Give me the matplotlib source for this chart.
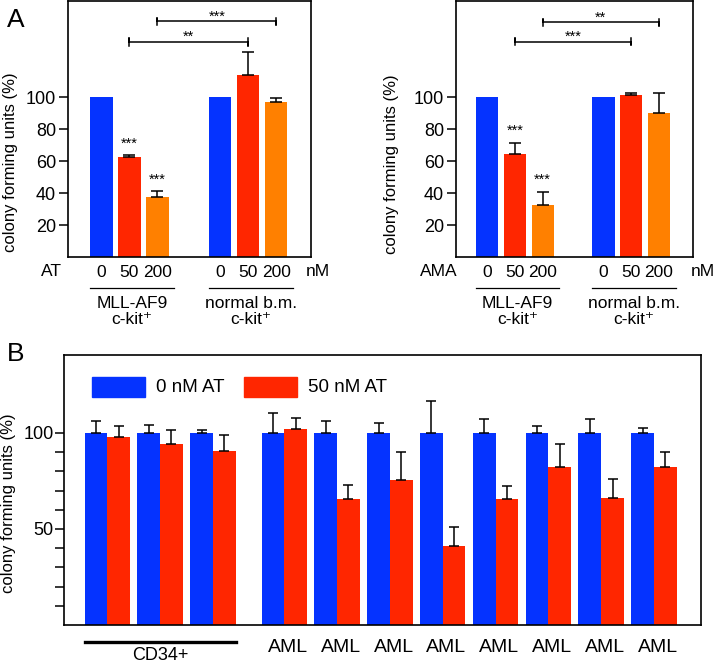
import matplotlib
matplotlib.use("Agg")
import matplotlib.pyplot as plt
import matplotlib.transforms as mtransforms
import numpy as np

plt.rcParams['font.family'] = ['Liberation Sans', 'DejaVu Sans']

W, H = 714, 666
BLUE = '#0533ff'
RED = '#ff2600'
ORANGE = '#ff8000'

# ---- panel A data ----
doses = ['0', '50', '200']
at_mll = [100, 62.9, 37.6]
at_mll_err = [0, 0.9, 3.7]
at_norm = [100, 114.2, 97.1]
at_norm_err = [0, 14.3, 2.5]
ama_mll = [100, 64.8, 32.7]
ama_mll_err = [0, 6.7, 8.2]
ama_norm = [100, 101.7, 90.0]
ama_norm_err = [0, 1.2, 12.9]
group_names = ['MLL-AF9\nc-kit\u207a', 'normal b.m.\nc-kit\u207a']

# ---- panel B data ----
samples = ['CD34+', 'CD34+', 'CD34+', 'AML', 'AML', 'AML', 'AML', 'AML', 'AML', 'AML', 'AML']
ctrl = [100] * 11
ctrl_err = [6.1, 4.3, 1.7, 10.2, 6.3, 5.2, 16.5, 7.1, 3.6, 7.5, 2.4]
treat = [98.1, 94.1, 90.8, 102.3, 65.6, 75.5, 41.0, 65.6, 82.3, 66.0, 82.3]
treat_err = [5.4, 7.3, 8.3, 5.3, 7.1, 14.4, 10.0, 7.0, 12.0, 10.0, 8.0]

fig = plt.figure(figsize=(W / 100, H / 100), dpi=100)


def px_axes(l, t, r, b):
    return fig.add_axes([l / W, 1 - b / H, (r - l) / W, (b - t) / H])


def panel_a(ax, mll, mll_err, norm, norm_err, gap, drug, xlim, brackets, height_px, unit_px, nm_px):
    pos1 = np.arange(3)
    pos2 = np.arange(3) + gap
    pos = np.concatenate([pos1, pos2])
    vals = mll + norm
    errs = np.array(mll_err + norm_err)
    cols = [BLUE, RED, ORANGE] * 2
    ax.bar(pos, vals, width=0.8, color=cols, edgecolor='none')
    m = errs > 0
    ax.errorbar(pos[m], np.array(vals)[m], yerr=[np.zeros(m.sum()), errs[m]],
                fmt='none', ecolor='black', elinewidth=1.1, capsize=4.3, capthick=1.1)
    ax.set_xlim(*xlim)
    ax.set_ylim(0, 160.5)
    ax.set_yticks([20, 40, 60, 80, 100])
    ax.tick_params(axis='y', length=6.5, width=1.1, labelsize=13, pad=2)
    ax.set_xticks(pos)
    ax.set_xticklabels(doses * 2)
    ax.tick_params(axis='x', length=0, labelsize=12.5, pad=6)
    for s in ax.spines.values():
        s.set_linewidth(1.2)
    # stars over bars
    for i in (1, 2):
        ax.annotate('***', (pos[i], vals[i] + errs[i]), xytext=(0, 8.5),
                    textcoords='offset points', ha='center', va='center', fontsize=10.5)
    # significance brackets
    for a, b, y, lab in brackets:
        xa, xb = pos[a], pos[b]
        ax.plot([xa, xa, xa, xb, xb, xb], [y - 2.2, y + 2.2, y, y, y - 2.2, y + 2.2],
                color='black', lw=1.1, clip_on=False)
        ax.annotate(lab, ((xa + xb) / 2, y), xytext=(0, 3.5), textcoords='offset points',
                    ha='center', va='center', fontsize=10.5)
    tr = mtransforms.blended_transform_factory(ax.transData, ax.transAxes)

    def yf(p):
        return -p / height_px
    ax.text(xlim[0] - 17 / unit_px, yf(14), drug, transform=tr, ha='center', va='center', fontsize=12.5)
    ax.text(xlim[1] + nm_px / unit_px, yf(14), 'nM', transform=tr, ha='center', va='center', fontsize=12.5)
    for g, name in zip((pos1, pos2), group_names):
        x0, x1 = g[0] - 0.4, g[-1] + 0.6
        ax.plot([x0, x1], [yf(31), yf(31)], color='black', lw=0.9, transform=tr, clip_on=False)
        ax.text((x0 + x1) / 2, yf(39), name, transform=tr, ha='center', va='top',
                fontsize=12.5, linespacing=1.05)


axA1 = px_axes(68, 1, 311, 257)
panel_a(axA1, at_mll, at_mll_err, at_norm, at_norm_err, 4.25, 'AT', (-1.19, 7.49),
        [(2, 5, 147.7, '***'), (1, 4, 134.8, '**')], 256, 28, 7)
axA2 = px_axes(456, 1, 693, 257)
panel_a(axA2, ama_mll, ama_mll_err, ama_norm, ama_norm_err, 4.2, 'AMA', (-1.13, 7.43),
        [(2, 5, 147.2, '**'), (1, 4, 135.0, '***')], 256, 27.7, 10)

fig.text(11 / W, 1 - 162 / H, 'colony forming units (%)', rotation=90, ha='center', va='center', fontsize=12)
fig.text(391 / W, 1 - 164 / H, 'colony forming units (%)', rotation=90, ha='center', va='center', fontsize=12)
fig.text(16 / W, 1 - 20 / H, 'A', ha='center', va='center', fontsize=19)
fig.text(16 / W, 1 - 354 / H, 'B', ha='center', va='center', fontsize=19)

# ---- panel B ----
axB = px_axes(64, 355, 701, 625)
centers = np.array([0, 1, 2] + [3.35 + k for k in range(8)])
bw = 0.43
axB.bar(centers - bw / 2, ctrl, width=bw, color=BLUE, edgecolor='none', label='0 nM AT')
axB.bar(centers + bw / 2, treat, width=bw, color=RED, edgecolor='none', label='50 nM AT')
axB.errorbar(centers - bw / 2, ctrl, yerr=[np.zeros(11), ctrl_err], fmt='none',
             ecolor='black', elinewidth=1.1, capsize=3.8, capthick=1.1)
axB.errorbar(centers + bw / 2, treat, yerr=[np.zeros(11), treat_err], fmt='none',
             ecolor='black', elinewidth=1.1, capsize=3.8, capthick=1.1)
axB.set_xlim(-0.82, 11.24)
axB.set_ylim(0, 140.6)
axB.set_yticks(np.arange(10, 101, 10))
axB.set_yticklabels(['' if v not in (50, 100) else str(v) for v in range(10, 101, 10)])
axB.tick_params(axis='y', length=6.5, width=1.1, labelsize=13, pad=1)
aml = [i for i, s in enumerate(samples) if s == 'AML']
axB.set_xticks(centers[aml] + 0.07)
axB.set_xticklabels([samples[i] for i in aml])
axB.tick_params(axis='x', length=0, labelsize=14, pad=10)
for s in axB.spines.values():
    s.set_linewidth(1.2)
cd = [i for i, s in enumerate(samples) if s == 'CD34+']
trB = mtransforms.blended_transform_factory(axB.transData, axB.transAxes)
x0, x1 = centers[cd[0]] - bw, centers[cd[-1]] + bw
axB.plot([x0, x1], [-17 / 270, -17 / 270], color='black', lw=2.4, transform=trB, clip_on=False)
axB.text((x0 + x1) / 2, -31 / 270, 'CD34+', transform=trB, ha='center', va='center', fontsize=13)
fig.text(9 / W, 1 - 503 / H, 'colony forming units (%)', rotation=90, ha='center', va='center', fontsize=12)

# legend drawn as patches in axes fraction
leg = [(BLUE, '0 nM AT', 92), (RED, '50 nM AT', 244)]
for c, lab, lx in leg:
    axB.add_patch(plt.Rectangle(((lx - 64) / 637, (625 - 397) / 270), 53 / 637, 20 / 270,
                                transform=axB.transAxes, color=c, clip_on=False))
    axB.text((lx + 64 - 64) / 637, (625 - 387) / 270, lab, transform=axB.transAxes,
             ha='left', va='center', fontsize=13.5)

fig.savefig('out.png', dpi=100)
